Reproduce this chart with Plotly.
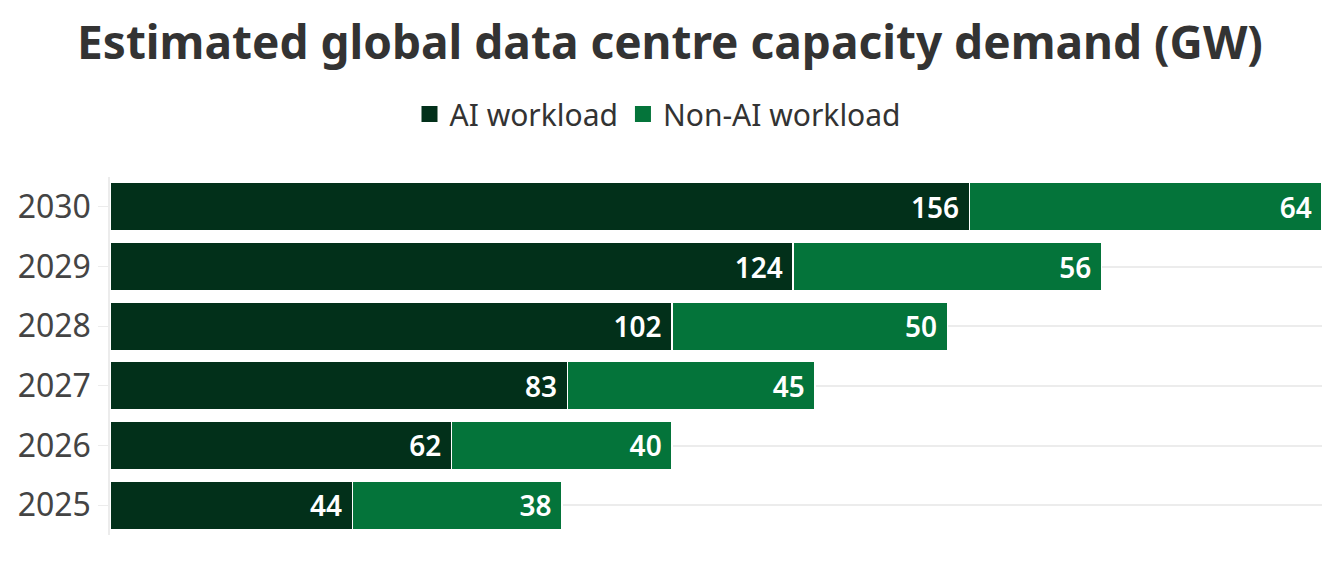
import plotly.graph_objects as go

# data
years = ["2025", "2026", "2027", "2028", "2029", "2030"]
ai_workload = [44, 62, 83, 102, 124, 156]
non_ai_workload = [38, 40, 45, 50, 56, 64]
series_names = ["AI workload", "Non-AI workload"]

AI_COLOR = "#02301a"
NON_AI_COLOR = "#04743a"
FONT = "Noto Sans"

# page body has an 8px margin, so the figure is a bit smaller than the window
W, H = 1336, 558

fig = go.Figure()

for name, vals, col in zip(series_names, [ai_workload, non_ai_workload], [AI_COLOR, NON_AI_COLOR]):
    fig.add_trace(go.Bar(
        y=years, x=vals, name=name, orientation="h", showlegend=False,
        marker=dict(color=col, line=dict(color="white", width=1.5)),
        texttemplate="%{x}\u00a0", textposition="inside", insidetextanchor="end",
        textfont=dict(color="white", size=28, family=FONT, weight=600),
        constraintext="none", hoverinfo="x+name",
    ))

# bigger legend swatches than the default bar squares
for name, col in zip(series_names, [AI_COLOR, NON_AI_COLOR]):
    fig.add_trace(go.Scatter(
        x=[None], y=[None], mode="markers", name=name,
        marker=dict(symbol="square", size=16, color=col),
        hoverinfo="skip",
    ))

fig.update_layout(
    barmode="stack", bargap=0.19,
    width=W, height=H,
    margin=dict(l=102, r=22, t=169, b=31, autoexpand=False),
    paper_bgcolor="white", plot_bgcolor="white",
    font=dict(family=FONT, color="#333"),
    title=dict(text="<b>Estimated global data centre capacity demand (GW)</b>",
               x=662 / W, xanchor="center", xref="container",
               y=1 - 35 / H, yanchor="middle", yref="container",
               font=dict(size=46, color="#333", family=FONT)),
    legend=dict(orientation="h", x=650 / W, xanchor="center", xref="container",
                y=1 - 106 / H, yanchor="middle", yref="container",
                font=dict(size=30, color="#333"), itemwidth=30,
                itemsizing="trace", traceorder="normal"),
)

fig.update_xaxes(range=[0, 220], showticklabels=False, showgrid=False,
                 zeroline=False, showline=False, fixedrange=True, automargin=False)
fig.update_yaxes(showgrid=True, gridcolor="#ececec", gridwidth=1.5,
                 showline=True, linecolor="#ececec", linewidth=1.5,
                 ticks="outside", ticklen=10, tickcolor="#ececec",
                 tickfont=dict(size=32, color="#444"), ticklabelstandoff=1,
                 fixedrange=True, automargin=False)

fig.write_html("out.html")
